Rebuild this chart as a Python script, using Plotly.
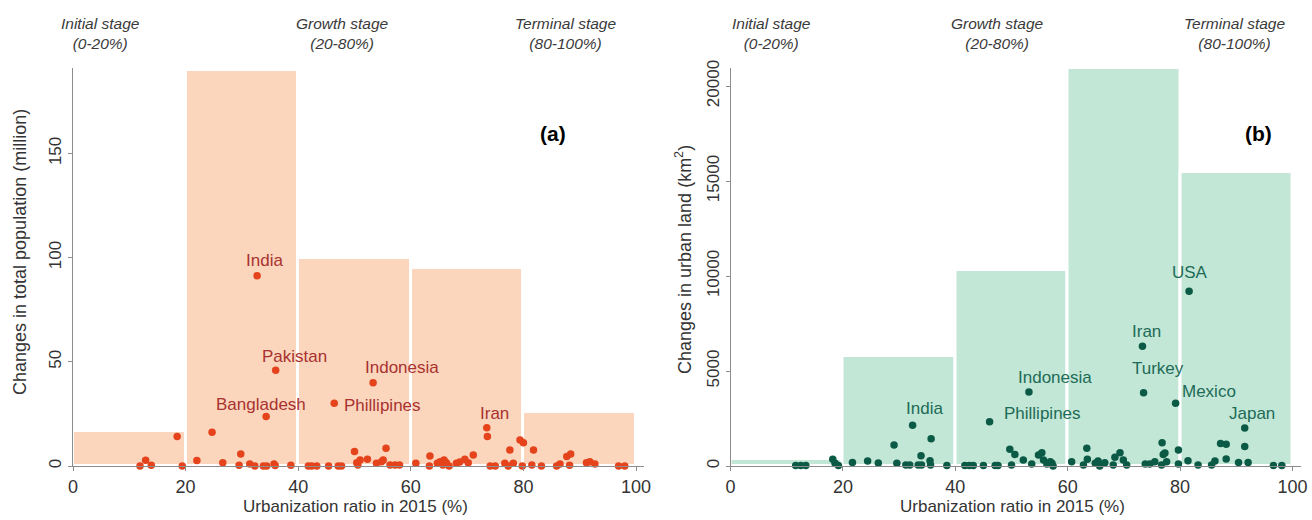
import plotly.graph_objects as go

# ---------------- data ----------------
bin_centers = [10, 30, 50, 70, 90]
pop_bars = [17, 190, 100, 95, 26]            # million
land_bars = [380, 5800, 10300, 20950, 15450]  # km2

stage_names = ["Initial stage<br>(0-20%)", "Growth stage<br>(20-80%)", "Terminal stage<br>(80-100%)"]

pop_x = [11.9, 12.9, 13.9, 18.5, 19.4, 22.0, 24.7, 26.6, 29.5, 29.8, 31.4, 32.3, 32.7, 33.8, 34.4,
         34.3, 35.7, 35.9, 36.0, 38.7, 41.8, 42.4, 43.3, 45.4, 46.4, 47.1, 47.7, 50.0, 50.4, 50.6,
         51.0, 52.3, 53.3, 53.5, 53.9, 54.8, 54.8, 55.1, 55.6, 56.3, 57.2, 57.6, 58.0, 60.9, 63.3,
         63.4, 64.7, 65.2, 65.7, 65.9, 66.3, 66.8, 68.1, 68.7, 69.6, 70.2, 71.1, 73.5, 73.6, 74.1,
         75.0, 76.7, 77.3, 77.6, 78.2, 79.4, 79.8, 80.0, 81.5, 81.8, 83.2, 85.9, 86.5, 87.7, 88.2,
         88.4, 91.2, 91.8, 92.7, 96.9, 98.0]
pop_y = [0, 2.7, 0.3, 14.1, 0, 2.6, 16.2, 1.6, 0.3, 5.8, 1.0, 0, 91.3, 0, 0,
         23.7, 1.0, 0.2, 46.0, 0.3, 0, 0, 0, 0, 30.1, 0, 0, 6.9, 1.6, 0.5,
         2.9, 3.2, 40.0, -0.6, 1.3, 2.0, -0.3, 2.9, 8.5, 0.5, 0.5, -0.3, 0.5, 1.3, 0,
         4.8, 1.3, 2.0, 0.5, 2.9, 1.6, 0, 1.3, 1.9, 3.2, 1.6, 5.3, 18.4, 14.1, 0,
         0, 1.3, 0, 7.7, 1.3, 12.5, 0, 11.2, 0.5, 7.7, 0, 0, 1.0, 4.5, 0.3,
         5.8, 1.6, 2.0, 1.0, 0, 0]

land_x = [11.6, 12.5, 13.4, 18.2, 18.6, 19.2, 21.7, 24.4, 26.3, 29.1, 29.6, 31.2, 31.9, 32.4, 33.4,
          34.0, 33.9, 35.5, 35.6, 35.7, 38.5, 41.7, 42.5, 43.2, 45.0, 46.1, 47.1, 47.6, 49.7, 50.0,
          50.6, 52.1, 53.1, 53.6, 54.8, 55.4, 55.7, 56.3, 56.9, 57.2, 57.4, 60.7, 62.8, 63.4, 63.5,
          64.9, 65.4, 65.7, 66.6, 68.1, 68.4, 69.3, 69.9, 70.5, 73.3, 73.5, 73.8, 74.6, 75.5, 76.7,
          76.8, 77.0, 77.3, 77.6, 79.2, 79.7, 79.7, 81.6, 81.4, 83.2, 85.6, 86.2, 87.2, 88.2, 88.2,
          90.4, 91.5, 91.5, 92.1, 96.6, 98.1]
land_y = [30, 30, 30, 350, 140, 30, 190, 260, 160, 1105, 140, 50, 50, 2150, 50,
          50, 540, 280, 50, 1430, 30, 30, 30, 30, 30, 2330, 30, 30, 880, 50,
          610, 320, 3900, 100, 580, 700, 320, 100, 230, 140, 0, 230, 50, 930, 350,
          140, 260, 0, 170, 50, 460, 700, 320, 50, 6300, 3850, 100, 100, 230, 50,
          1230, 610, 680, 230, 3300, 840, 100, 9200, 280, 50, 50, 260, 1190, 1140, 370,
          190, 2000, 1020, 190, 30, 30]

pop_labels = ["India", "Pakistan", "Bangladesh", "Phillipines", "Indonesia", "Iran"]
pop_label_x = [32.7, 36.0, 34.3, 46.4, 53.3, 73.5]
pop_label_y = [91.3, 46.0, 23.7, 30.1, 40.0, 18.4]

land_labels = ["India", "Phillipines", "Indonesia", "Iran", "Turkey", "Mexico", "USA", "Japan"]
land_label_x = [32.4, 46.1, 53.1, 73.3, 73.5, 79.2, 81.6, 91.5]
land_label_y = [2150, 2330, 3900, 6300, 3850, 3300, 9200, 2000]

# ---------------- styles ----------------
FONT = "Liberation Sans, Arial, sans-serif"
PEACH = "#fcd5bd"
MINT = "#c3e7d7"
RED_PT = "#e4431b"
RED_TXT = "#a8322f"
GRN_PT = "#0b5a46"
GRN_TXT = "#1d6b56"
AXIS_COL = "#8c8c8c"
TXT = "#333333"

W, H = 1312, 520
def px_x(p):
    return p / W
def px_y(p):
    return 1 - p / H

fig = go.Figure()

fig.add_trace(go.Bar(x=bin_centers, y=pop_bars, width=20,
                     marker=dict(color=PEACH, line=dict(color="white", width=3)),
                     xaxis="x", yaxis="y", hoverinfo="skip"))
fig.add_trace(go.Scatter(x=pop_x, y=pop_y, mode="markers",
                         marker=dict(color=RED_PT, size=7.5, line=dict(width=0)),
                         cliponaxis=False, xaxis="x", yaxis="y"))
fig.add_trace(go.Bar(x=bin_centers, y=land_bars, width=20,
                     marker=dict(color=MINT, line=dict(color="white", width=3)),
                     xaxis="x2", yaxis="y2", hoverinfo="skip"))
fig.add_trace(go.Scatter(x=land_x, y=land_y, mode="markers",
                         marker=dict(color=GRN_PT, size=7.5, line=dict(width=0)),
                         cliponaxis=False, xaxis="x2", yaxis="y2"))

ydom = [px_y(466), px_y(68)]
xcommon = dict(range=[0, 101.5], tickvals=[0, 20, 40, 60, 80, 100], showgrid=False, zeroline=False,
               showline=True, linecolor=AXIS_COL, linewidth=1, ticks="outside", ticklen=4,
               tickcolor=AXIS_COL, tickfont=dict(family=FONT, size=18, color=TXT), automargin=False)
ycommon = dict(showgrid=False, zeroline=False, showline=True, linecolor=AXIS_COL, linewidth=1,
               ticks="outside", ticklen=4, tickcolor=AXIS_COL, tickangle=-90, tickformat="d",
               tickfont=dict(family=FONT, size=17, color=TXT), automargin=False, domain=ydom)

fig.update_layout(
    width=W, height=H, margin=dict(l=0, r=0, t=0, b=0),
    paper_bgcolor="white", plot_bgcolor="white", showlegend=False, bargap=0,
    xaxis=dict(xcommon, domain=[px_x(73), px_x(73 + 5.63 * 101.5)], anchor="y"),
    yaxis=dict(ycommon, range=[0, 191], tickvals=[0, 50, 100, 150], anchor="x"),
    xaxis2=dict(xcommon, domain=[px_x(730.5), px_x(730.5 + 5.62 * 101.5)], anchor="y2"),
    yaxis2=dict(ycommon, range=[0, 20950], tickvals=[0, 5000, 10000, 15000, 20000], anchor="x2"),
)

ann = []
# country labels (offset from their points)
pop_off = [(7, 15, "center"), (19, 14, "center"), (-5, 12, "center"), (8, -2, "left"), (29, 15, "center"), (8, 14, "center")]
for t, x, y, (dx, dy, xa) in zip(pop_labels, pop_label_x, pop_label_y, pop_off):
    ann.append(dict(x=x, y=y, xref="x", yref="y", text=t, showarrow=False, xshift=dx, yshift=dy,
                    xanchor=xa, yanchor="middle", font=dict(family=FONT, size=17, color=RED_TXT)))
land_off = [(12, 17, "center"), (12, 8, "left"), (26, 14, "center"), (4, 15, "center"), (14, 24, "center"),
            (4, 12, "left"), (1, 19, "center"), (7, 15, "center")]
for t, x, y, (dx, dy, xa) in zip(land_labels, land_label_x, land_label_y, land_off):
    ann.append(dict(x=x, y=y, xref="x2", yref="y2", text=t, showarrow=False, xshift=dx, yshift=dy,
                    xanchor=xa, yanchor="middle", font=dict(family=FONT, size=17, color=GRN_TXT)))

# stage headers
for cx_list in ([100, 342, 565], [771, 998, 1234]):
    for name, cx in zip(stage_names, cx_list):
        ann.append(dict(x=px_x(cx), y=px_y(34), xref="paper", yref="paper", text="<i>" + name + "</i>",
                        showarrow=False, xanchor="center", yanchor="middle", align="center",
                        font=dict(family=FONT, size=15.5, color="#3a3a3a")))

# axis titles
for cx in (355, 1012):
    ann.append(dict(x=px_x(cx), y=px_y(506), xref="paper", yref="paper",
                    text="Urbanization ratio in 2015 (%)", showarrow=False,
                    xanchor="center", yanchor="middle", font=dict(family=FONT, size=17, color=TXT)))
ann.append(dict(x=px_x(20), y=px_y(252), xref="paper", yref="paper", textangle=-90,
                text="Changes in total population (million)", showarrow=False,
                xanchor="center", yanchor="middle", font=dict(family=FONT, size=18, color=TXT)))
ann.append(dict(x=px_x(683), y=px_y(260), xref="paper", yref="paper", textangle=-90,
                text="Changes in urban land (km<sup>2</sup>)", showarrow=False,
                xanchor="center", yanchor="middle", font=dict(family=FONT, size=18, color=TXT)))

# panel tags
ann.append(dict(x=px_x(553), y=px_y(133), xref="paper", yref="paper", text="<b>(a)</b>", showarrow=False,
                xanchor="center", yanchor="middle", font=dict(family=FONT, size=21, color="black")))
ann.append(dict(x=px_x(1258), y=px_y(133), xref="paper", yref="paper", text="<b>(b)</b>", showarrow=False,
                xanchor="center", yanchor="middle", font=dict(family=FONT, size=21, color="black")))

fig.update_layout(annotations=ann)
fig.write_html("out.html", config={"displayModeBar": False},
               post_script="document.body.style.margin='0';document.body.style.overflow='hidden';")
